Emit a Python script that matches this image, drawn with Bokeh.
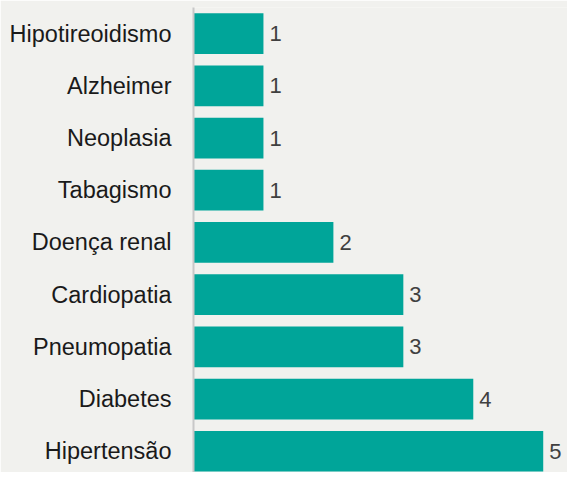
from bokeh.plotting import figure
from bokeh.models import ColumnDataSource, Range1d, FixedTicker, LabelSet
from bokeh.core.properties import value
from bokeh.embed import file_html
from bokeh.resources import INLINE

categories = ["Hipotireoidismo", "Alzheimer", "Neoplasia", "Tabagismo", "Doença renal",
              "Cardiopatia", "Pneumopatia", "Diabetes", "Hipertensão"]
values = [1, 1, 1, 1, 2, 3, 3, 4, 5]

n = len(categories)
ypos = [n - 1 - i for i in range(n)]
src = ColumnDataSource(dict(y=ypos, v=values, lbl=[str(v) for v in values], cat=categories))

p = figure(width=567, height=472, output_backend="svg", toolbar_location=None,
           x_range=Range1d(0, 5.347), y_range=Range1d(-0.407, 8.5),
           min_border_left=193, min_border_right=0, min_border_top=7, min_border_bottom=0)
p.background_fill_color = "#f1f1ee"
p.border_fill_color = "#f1f1ee"
p.outline_line_color = None
p.grid.visible = False
p.xaxis.visible = False

p.hbar(y="y", right="v", left=0, height=0.78, source=src, fill_color="#00A599", line_color=None)

labels = LabelSet(x="v", y="y", text="lbl", source=src, x_offset=6, text_baseline="middle",
                  text_font=value("Liberation Sans"), text_font_size="22px", text_color="#404040")
p.add_layout(labels)

ax = p.yaxis[0]
ax.ticker = FixedTicker(ticks=ypos)
ax.major_label_overrides = {y: c for y, c in zip(ypos, categories)}
ax.major_tick_line_color = None
ax.minor_tick_line_color = None
ax.major_tick_out = 0
ax.major_label_standoff = 22
ax.axis_line_color = "#c8c8c8"
ax.axis_line_width = 2
ax.major_label_text_font = "Liberation Sans"
ax.major_label_text_font_size = "23.5px"
ax.major_label_text_color = "#1a1a1a"

open("out.html", "w").write(file_html(p, INLINE))
